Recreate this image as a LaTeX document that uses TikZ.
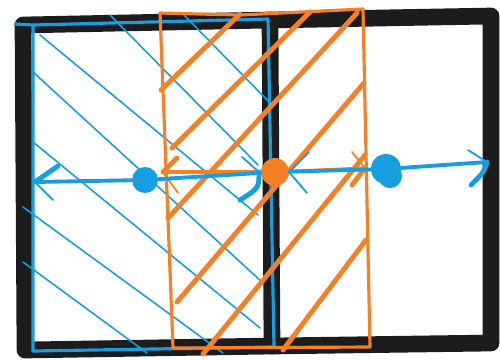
\documentclass[tikz,border=0pt]{standalone}
\definecolor{skblue}{RGB}{22,158,224}
\definecolor{skorange}{RGB}{246,128,38}
\definecolor{skblack}{RGB}{28,28,28}
\begin{document}
\begin{tikzpicture}[x=0.02cm,y=-0.02cm, line cap=round, line join=round,
  frame/.style={draw=skblack, line width=9.5pt},
  bhatch/.style={draw=skblue, line width=0.9pt},
  brect/.style={draw=skblue, line width=1.8pt},
  orect/.style={draw=skorange, line width=1.8pt},
  ohatch/.style={draw=skorange, line width=2.8pt},
  oline/.style={draw=skorange, line width=1.8pt},
  bline/.style={draw=skblue, line width=2.2pt},
  bhead/.style={draw=skblue, line width=2.8pt},
  bthin/.style={draw=skblue, line width=1pt},
  othin/.style={draw=skorange, line width=1pt},
  bdot/.style={circle, fill=skblue, inner sep=0pt, minimum size=0.52cm},
  odot/.style={circle, fill=skorange, inner sep=0pt, minimum size=0.56cm}]
\useasboundingbox (0,0) rectangle (500,360);
% black frame
\coordinate (ftl) at (23,25);
\coordinate (fmt) at (270,20);
\coordinate (ftr) at (491,16);
\coordinate (fbr) at (491,343);
\coordinate (fmb) at (272,346);
\coordinate (fbl) at (25,350);
\draw[frame] (ftl) -- (fmt) -- (ftr) -- (fbr) -- (fmb) -- (fbl) -- cycle;
\draw[frame] (fmt) -- (fmb);
% blue hatch
\draw[bhatch] (183,14) -- (272,105);
\draw[bhatch] (110,15) -- (258,165);
\draw[bhatch] (40,35) -- (258,215);
\draw[bhatch] (33,72) -- (262,282);
\draw[bhatch] (33,142) -- (260,328);
\draw[bhatch] (23,207) -- (223,353);
\draw[bhatch] (23,262) -- (147,353);
% blue rectangle
\draw[brect] (33,25) -- (268,19) -- (274,347) -- (33,351) -- cycle;
\draw[brect] (15,24) -- (33,25);
% orange rectangle
\draw[orect] (160,13) -- (240,15) -- (363,9) -- (370,347) -- (173,348) -- cycle;
% orange hatch
\draw[ohatch] (161,90) -- (240,14);
\draw[ohatch] (172,148) -- (310,12);
\draw[ohatch] (168,218) -- (357,13);
\draw[ohatch] (177,302) -- (364,83);
\draw[ohatch] (203,354) -- (365,155);
\draw[ohatch] (283,350) -- (366,240);
% dots
\node[bdot] (d1) at (145,180) {};
\node[odot] (d2) at (275,172) {};
\node[bdot, minimum size=0.6cm] (d3) at (386,169) {};
% orange horizontal with heads
\coordinate (ol) at (163,172);
\coordinate (or) at (365,168);
\draw[oline] (ol) -- (d2);
\draw[oline] (d2) -- (or);
\draw[ohatch] (ol) -- (177,158);
\draw[othin] (ol) -- (178,193);
\draw[othin] (352,152) -- (or);
\draw[ohatch] (or) -- (352,185);
% blue horizontal with heads
\coordinate (la) at (35,182);
\coordinate (ra) at (487,162);
\draw[bline] (la) -- (d1);
\draw[bline] (d1) -- (d2);
\draw[bline] (d2) -- (d3);
\draw[bline] (d3) -- (ra);
\draw[bhead] (la) -- (58,166);
\draw[bthin] (la) -- (53,200);
\draw[bthin] (468,150) -- (ra);
\draw[bhead] (ra) .. controls (484,172) .. (471,185);
\coordinate (ca) at (259,172);
\draw[bthin] (242,157) -- (ca);
\draw[bhead] (ca) .. controls (259,188) .. (240,200);
\coordinate (cb) at (289,172);
\draw[bthin] (cb) -- (309,152);
\draw[bthin] (cb) -- (307,193);
\fill[skblue] (390,176) circle (12);
\end{tikzpicture}
\end{document}
